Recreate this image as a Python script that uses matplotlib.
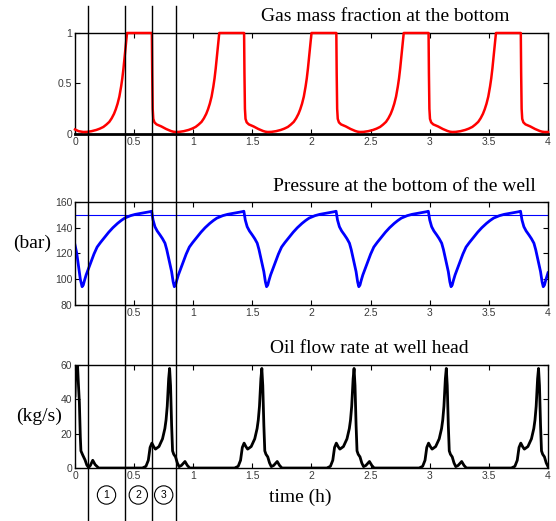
import matplotlib
matplotlib.use("Agg")
import matplotlib.pyplot as plt
from matplotlib.lines import Line2D
from matplotlib.transforms import blended_transform_factory

# gas mass fraction at the bottom
gas_t = [0.0, 0.03,
   0.07, 0.10, 0.14, 0.18, 0.21, 0.24, 0.265, 0.29, 0.31, 0.33, 0.345, 0.36, 0.375, 0.39, 0.40, 0.41, 0.425, 0.44,
   0.65, 0.653, 0.657, 0.662, 0.672, 0.69, 0.73, 0.77, 0.81, 0.83,
   0.85, 0.88, 0.92, 0.96, 0.99, 1.02, 1.045, 1.07, 1.09, 1.11, 1.125, 1.14, 1.155, 1.17, 1.18, 1.19, 1.205, 1.22,
   1.43, 1.433, 1.437, 1.442, 1.452, 1.47, 1.51, 1.55, 1.59, 1.61,
   1.63, 1.66, 1.70, 1.74, 1.77, 1.80, 1.825, 1.85, 1.87, 1.89, 1.905, 1.92, 1.935, 1.95, 1.96, 1.97, 1.985, 2.00,
   2.21, 2.213, 2.217, 2.222, 2.232, 2.25, 2.29, 2.33, 2.37, 2.39,
   2.41, 2.44, 2.48, 2.52, 2.55, 2.58, 2.605, 2.63, 2.65, 2.67, 2.685, 2.70, 2.715, 2.73, 2.74, 2.75, 2.765, 2.78,
   2.99, 2.993, 2.997, 3.002, 3.012, 3.03, 3.07, 3.11, 3.15, 3.17,
   3.19, 3.22, 3.26, 3.30, 3.33, 3.36, 3.385, 3.41, 3.43, 3.45, 3.465, 3.48, 3.495, 3.51, 3.52, 3.53, 3.545, 3.56,
   3.77, 3.773, 3.777, 3.782, 3.792, 3.81, 3.85, 3.89, 3.93, 3.95,
   3.97, 4.0]
gas_v = [0.045, 0.028,
   0.02, 0.021, 0.028, 0.04, 0.053, 0.07, 0.093, 0.12, 0.155, 0.20, 0.245, 0.30, 0.37, 0.47, 0.55, 0.65, 0.82, 1.0,
   1.0, 0.6, 0.25, 0.15, 0.115, 0.095, 0.075, 0.05, 0.03, 0.023,
   0.02, 0.021, 0.028, 0.04, 0.053, 0.07, 0.093, 0.12, 0.155, 0.20, 0.245, 0.30, 0.37, 0.47, 0.55, 0.65, 0.82, 1.0,
   1.0, 0.6, 0.25, 0.15, 0.115, 0.095, 0.075, 0.05, 0.03, 0.023,
   0.02, 0.021, 0.028, 0.04, 0.053, 0.07, 0.093, 0.12, 0.155, 0.20, 0.245, 0.30, 0.37, 0.47, 0.55, 0.65, 0.82, 1.0,
   1.0, 0.6, 0.25, 0.15, 0.115, 0.095, 0.075, 0.05, 0.03, 0.023,
   0.02, 0.021, 0.028, 0.04, 0.053, 0.07, 0.093, 0.12, 0.155, 0.20, 0.245, 0.30, 0.37, 0.47, 0.55, 0.65, 0.82, 1.0,
   1.0, 0.6, 0.25, 0.15, 0.115, 0.095, 0.075, 0.05, 0.03, 0.023,
   0.02, 0.021, 0.028, 0.04, 0.053, 0.07, 0.093, 0.12, 0.155, 0.20, 0.245, 0.30, 0.37, 0.47, 0.55, 0.65, 0.82, 1.0,
   1.0, 0.6, 0.25, 0.15, 0.115, 0.095, 0.075, 0.05, 0.03, 0.023,
   0.02, 0.02]

# pressure at the bottom of the well (bar)
pres_t = [0.0, 0.015, 0.03, 0.045,
   0.06, 0.07, 0.08, 0.094, 0.115, 0.136, 0.16, 0.187, 0.215, 0.25, 0.285, 0.32, 0.36, 0.39, 0.42, 0.47, 0.51, 0.56,
   0.63, 0.648, 0.655, 0.66, 0.676, 0.695, 0.719, 0.74, 0.761, 0.776, 0.789, 0.803, 0.817, 0.83,
   0.84, 0.85, 0.86, 0.874, 0.895, 0.916, 0.94, 0.967, 0.995, 1.03, 1.065, 1.10, 1.14, 1.17, 1.20, 1.25, 1.29, 1.34,
   1.41, 1.428, 1.435, 1.44, 1.456, 1.475, 1.499, 1.52, 1.541, 1.556, 1.569, 1.583, 1.597, 1.61,
   1.62, 1.63, 1.64, 1.654, 1.675, 1.696, 1.72, 1.747, 1.775, 1.81, 1.845, 1.88, 1.92, 1.95, 1.98, 2.03, 2.07, 2.12,
   2.19, 2.208, 2.215, 2.22, 2.236, 2.255, 2.279, 2.30, 2.321, 2.336, 2.349, 2.363, 2.377, 2.39,
   2.40, 2.41, 2.42, 2.434, 2.455, 2.476, 2.50, 2.527, 2.555, 2.59, 2.625, 2.66, 2.70, 2.73, 2.76, 2.81, 2.85, 2.90,
   2.97, 2.988, 2.995, 3.00, 3.016, 3.035, 3.059, 3.08, 3.101, 3.116, 3.129, 3.143, 3.157, 3.17,
   3.18, 3.19, 3.20, 3.214, 3.235, 3.256, 3.28, 3.307, 3.335, 3.37, 3.405, 3.44, 3.48, 3.51, 3.54, 3.59, 3.63, 3.68,
   3.75, 3.768, 3.775, 3.78, 3.796, 3.815, 3.839, 3.86, 3.881, 3.896, 3.909, 3.923, 3.937, 3.95,
   3.96, 3.97, 3.98, 3.994, 4.0]
pres_v = [126.6, 120, 110, 100,
   94.2, 95.5, 99, 103.3, 108.5, 113.6, 119.5, 125, 128.5, 132.5, 136.5, 140, 143.4, 145.6, 147.5, 149.4, 150.4, 151.2,
   152.4, 152.8, 149, 146, 140.8, 137.5, 134.4, 131.5, 128, 123, 117.5, 111.5, 105.9, 98,
   94.2, 95.5, 99, 103.3, 108.5, 113.6, 119.5, 125, 128.5, 132.5, 136.5, 140, 143.4, 145.6, 147.5, 149.4, 150.4, 151.2,
   152.4, 152.8, 149, 146, 140.8, 137.5, 134.4, 131.5, 128, 123, 117.5, 111.5, 105.9, 98,
   94.2, 95.5, 99, 103.3, 108.5, 113.6, 119.5, 125, 128.5, 132.5, 136.5, 140, 143.4, 145.6, 147.5, 149.4, 150.4, 151.2,
   152.4, 152.8, 149, 146, 140.8, 137.5, 134.4, 131.5, 128, 123, 117.5, 111.5, 105.9, 98,
   94.2, 95.5, 99, 103.3, 108.5, 113.6, 119.5, 125, 128.5, 132.5, 136.5, 140, 143.4, 145.6, 147.5, 149.4, 150.4, 151.2,
   152.4, 152.8, 149, 146, 140.8, 137.5, 134.4, 131.5, 128, 123, 117.5, 111.5, 105.9, 98,
   94.2, 95.5, 99, 103.3, 108.5, 113.6, 119.5, 125, 128.5, 132.5, 136.5, 140, 143.4, 145.6, 147.5, 149.4, 150.4, 151.2,
   152.4, 152.8, 149, 146, 140.8, 137.5, 134.4, 131.5, 128, 123, 117.5, 111.5, 105.9, 98,
   94.2, 95.5, 99, 103.3, 105]
pres_ref = 150

# oil flow rate at well head (kg/s)
oil_t = [0.0, 0.006, 0.012, 0.02, 0.028, 0.037, 0.045, 0.05, 0.065, 0.085, 0.1, 0.115, 0.13, 0.15, 0.17, 0.2,
   0.57, 0.60, 0.62, 0.635, 0.65, 0.665, 0.68, 0.71, 0.74, 0.76, 0.77, 0.78, 0.792, 0.80, 0.808, 0.817, 0.825, 0.835, 0.85, 0.865, 0.88, 0.90, 0.93, 0.95, 0.97,
   1.35, 1.38, 1.40, 1.415, 1.43, 1.445, 1.46, 1.49, 1.52, 1.54, 1.55, 1.56, 1.572, 1.58, 1.588, 1.597, 1.605, 1.615, 1.63, 1.645, 1.66, 1.68, 1.71, 1.73, 1.75,
   2.13, 2.16, 2.18, 2.195, 2.21, 2.225, 2.24, 2.27, 2.30, 2.32, 2.33, 2.34, 2.352, 2.36, 2.368, 2.377, 2.385, 2.395, 2.41, 2.425, 2.44, 2.46, 2.49, 2.51, 2.53,
   2.91, 2.94, 2.96, 2.975, 2.99, 3.005, 3.02, 3.05, 3.08, 3.10, 3.11, 3.12, 3.132, 3.14, 3.148, 3.157, 3.165, 3.175, 3.19, 3.205, 3.22, 3.24, 3.27, 3.29, 3.31,
   3.69, 3.72, 3.74, 3.755, 3.77, 3.785, 3.80, 3.83, 3.86, 3.88, 3.89, 3.90, 3.912, 3.92, 3.928, 3.937, 3.945, 3.955, 3.97, 3.985, 4.0]
oil_v = [42, 58, 63, 62, 50, 38, 18, 10, 7.6, 4.7, 1.7, 0.3, 1.5, 4.5, 2, 0,
   0, 1, 4.5, 12, 14.5, 12.5, 11, 12.5, 17, 23, 28, 36, 52, 58, 48, 25, 10, 8, 6.5, 3, 0.8, 1.5, 3.8, 1.5, 0,
   0, 1, 4.5, 12, 14.5, 12.5, 11, 12.5, 17, 23, 28, 36, 52, 58, 48, 25, 10, 8, 6.5, 3, 0.8, 1.5, 3.8, 1.5, 0,
   0, 1, 4.5, 12, 14.5, 12.5, 11, 12.5, 17, 23, 28, 36, 52, 58, 48, 25, 10, 8, 6.5, 3, 0.8, 1.5, 3.8, 1.5, 0,
   0, 1, 4.5, 12, 14.5, 12.5, 11, 12.5, 17, 23, 28, 36, 52, 58, 48, 25, 10, 8, 6.5, 3, 0.8, 1.5, 3.8, 1.5, 0,
   0, 1, 4.5, 12, 14.5, 12.5, 11, 12.5, 17, 23, 28, 36, 52, 58, 48, 25, 10, 8, 6.5, 3, 0.8]

# phase boundaries (h) and phase labels
phase_t = [0.11, 0.423, 0.648, 0.852]
phase_labels = ["1", "2", "3"]

x_ticks = [0, 0.5, 1, 1.5, 2, 2.5, 3, 3.5, 4]
x_labels = ["0", "0.5", "1", "1.5", "2", "2.5", "3", "3.5", "4"]
x_labels_mid = [""] + x_labels[1:]

SERIF = "Liberation Serif"
TICKFONT = dict(family="Liberation Sans", size=7.5, color="#3a3a3a")

fig = plt.figure(figsize=(5.56, 5.21), dpi=100)
ax1 = fig.add_axes([0.1349, 0.7428, 0.8507, 0.1939])
ax2 = fig.add_axes([0.1349, 0.4146, 0.8507, 0.1977])
ax3 = fig.add_axes([0.1349, 0.1017, 0.8507, 0.1977])

def style(ax, yticks, xlabels):
   ax.set_xlim(0, 4)
   ax.set_xticks(x_ticks)
   ax.set_xticklabels(xlabels, fontdict=TICKFONT)
   ax.set_yticks(yticks)
   ax.set_yticklabels([f"{y:g}" for y in yticks], fontdict=TICKFONT)
   ax.tick_params(direction="in", length=3.5, width=0.8, top=True, right=True, pad=2)
   for s in ax.spines.values():
      s.set_linewidth(1.0)

ax1.plot(gas_t, gas_v, color="#ff0000", lw=1.8, clip_on=False, zorder=3, solid_joinstyle="round")
ax1.set_ylim(0, 1)
style(ax1, [0, 0.5, 1], x_labels)
ax1.spines["bottom"].set_linewidth(2.0)
ax1.text(0.655, 1.168, "Gas mass fraction at the bottom", transform=ax1.transAxes,
   ha="center", va="center", family=SERIF, fontsize=14)

ax2.axhline(pres_ref, color="#0000ff", lw=0.8)
ax2.plot(pres_t, pres_v, color="#0000ff", lw=2.0, solid_joinstyle="round")
ax2.set_ylim(80, 160)
style(ax2, [80, 100, 120, 140, 160], x_labels_mid)
ax2.text(0.696, 1.155, "Pressure at the bottom of the well", transform=ax2.transAxes,
   ha="center", va="center", family=SERIF, fontsize=14)
ax2.text(-0.091, 0.60, "(bar)", transform=ax2.transAxes, ha="center", va="center",
   family=SERIF, fontsize=14)

ax3.plot(oil_t, oil_v, color="black", lw=2.0, solid_joinstyle="round")
ax3.set_ylim(0, 60)
style(ax3, [0, 20, 40, 60], x_labels)
ax3.text(0.622, 1.165, "Oil flow rate at well head", transform=ax3.transAxes,
   ha="center", va="center", family=SERIF, fontsize=14)
ax3.text(-0.076, 0.505, "(kg/s)", transform=ax3.transAxes, ha="center", va="center",
   family=SERIF, fontsize=14)
ax3.text(0.476, -0.28, "time (h)", transform=ax3.transAxes, ha="center", va="center",
   family=SERIF, fontsize=14)

# phase lines across the whole figure
tr = blended_transform_factory(ax1.transData, fig.transFigure)
for t in phase_t:
   fig.add_artist(Line2D([t, t], [0, 0.988], transform=tr, color="black", lw=1.0, zorder=10))

# circled phase numbers
tr3 = blended_transform_factory(ax3.transData, ax3.transAxes)
for i, lab in enumerate(phase_labels):
   mid = (phase_t[i] + phase_t[i + 1]) / 2
   ax3.text(mid, -0.262, lab, transform=tr3, ha="center", va="center",
      family="Liberation Sans", fontsize=7.5, clip_on=False,
      bbox=dict(boxstyle="circle,pad=0.4", fc="white", ec="black", lw=0.8))

fig.savefig("out.png", dpi=100)
